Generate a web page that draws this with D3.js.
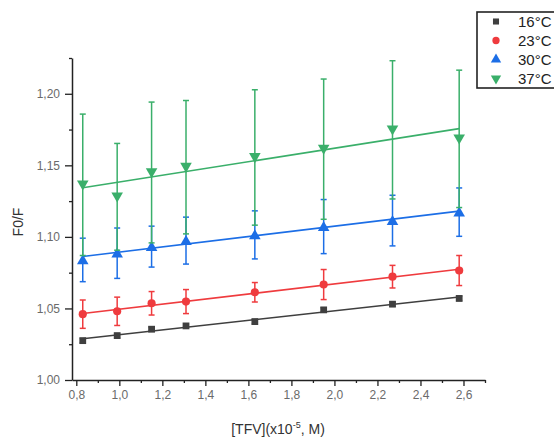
<!DOCTYPE html>
<html>
<head>
<meta charset="utf-8">
<script src="https://cdn.jsdelivr.net/npm/d3@7"></script>
<style>
  html, body { margin: 0; padding: 0; background: #fff; overflow: hidden; }
  svg { display: block; font-family: 'Liberation Sans', Arial, sans-serif; }
</style>
</head>
<body>
<div id="chart-container"></div>
<script>
// concentration of TFV (x10^-5 M)
const concentrations = [0.83, 0.99, 1.15, 1.31, 1.63, 1.95, 2.27, 2.58]

// F0/F per temperature, with error bars
const f16 = [1.0275, 1.031, 1.0355, 1.0378, 1.0408, 1.049, 1.053, 1.057]
const f16Err = [0.0015, 0.0015, 0.0015, 0.0015, 0.0015, 0.0015, 0.0015, 0.0015]
const f23 = [1.046, 1.048, 1.0536, 1.0548, 1.0613, 1.0667, 1.0722, 1.0765]
const f23Err = [0.0099, 0.0099, 0.0082, 0.0084, 0.0068, 0.0105, 0.0079, 0.0105]
const f30 = [1.0839, 1.0886, 1.0932, 1.0974, 1.1014, 1.1072, 1.1114, 1.1173]
const f30Err = [0.0152, 0.0176, 0.0143, 0.0164, 0.0168, 0.0189, 0.0177, 0.0169]
const f37 = [1.1364, 1.128, 1.145, 1.1487, 1.1555, 1.1613, 1.1748, 1.1685]
const f37Err = [0.0494, 0.0373, 0.0492, 0.0466, 0.0473, 0.049, 0.0483, 0.048]

const seriesNames = ['16°C', '23°C', '30°C', '37°C']

const xTicks = [0.8, 1.0, 1.2, 1.4, 1.6, 1.8, 2.0, 2.2, 2.4, 2.6]
const xMinorTicks = [0.9, 1.1, 1.3, 1.5, 1.7, 1.9, 2.1, 2.3, 2.5, 2.7]
const yTicks = [1.0, 1.05, 1.1, 1.15, 1.2]
const yMinorTicks = [1.025, 1.075, 1.125, 1.175, 1.225]

// --------------------------------------------

const width = 554
const height = 442
const plot = { left: 72, right: 485, top: 58, bottom: 380 }

const series = [
  { name: seriesNames[0], values: f16, errors: f16Err, color: '#3f3f3f', symbol: d3.symbolSquare, size: 46, rotate: 0 },
  { name: seriesNames[1], values: f23, errors: f23Err, color: '#ef3b3e', symbol: d3.symbolCircle, size: 52, rotate: 0 },
  { name: seriesNames[2], values: f30, errors: f30Err, color: '#1c6ee6', symbol: d3.symbolTriangle, size: 58, rotate: 0 },
  { name: seriesNames[3], values: f37, errors: f37Err, color: '#3aaf6a', symbol: d3.symbolTriangle, size: 58, rotate: 180 }
]

const x = d3.scaleLinear().domain([0.78, 2.7]).range([plot.left, plot.right])
const y = d3.scaleLinear().domain([1.0, 1.225]).range([plot.bottom, plot.top])

const comma = fmt => v => d3.format(fmt)(v).replace('.', ',')

const svg = d3.select('#chart-container')
  .append('svg')
  .attr('width', width)
  .attr('height', height)

// axes
const xAxis = svg.append('g').attr('transform', `translate(0,${plot.bottom})`)
xAxis.call(d3.axisBottom(x).tickValues(xMinorTicks).tickSize(3).tickFormat(''))
xAxis.call(g => g.select('.domain').remove())
svg.append('g').attr('transform', `translate(0,${plot.bottom})`)
  .call(d3.axisBottom(x).tickValues(xTicks).tickSize(6).tickSizeOuter(0).tickPadding(4).tickFormat(comma('.1f')))

const yAxis = svg.append('g').attr('transform', `translate(${plot.left},0)`)
yAxis.call(d3.axisLeft(y).tickValues(yMinorTicks).tickSize(3).tickFormat(''))
yAxis.call(g => g.select('.domain').remove())
svg.append('g').attr('transform', `translate(${plot.left},0)`)
  .call(d3.axisLeft(y).tickValues(yTicks).tickSize(7).tickSizeOuter(0).tickPadding(5).tickFormat(comma('.2f')))

svg.selectAll('.domain').attr('stroke', '#222').attr('stroke-width', 1.5)
svg.selectAll('.tick line').attr('stroke', '#222').attr('stroke-width', 1.3)
svg.selectAll('.tick text')
  .attr('fill', '#6a6a6a')
  .style('font-size', '12px')
  .style('font-family', "'Liberation Sans', Arial, sans-serif")

// axis titles
svg.append('text')
  .attr('transform', 'translate(23,222) rotate(-90)')
  .attr('text-anchor', 'middle')
  .attr('fill', '#333')
  .style('font-size', '14px')
  .text('F0/F')

const xTitle = svg.append('text')
  .attr('x', 278)
  .attr('y', 434)
  .attr('text-anchor', 'middle')
  .attr('fill', '#333')
  .style('font-size', '14px')
xTitle.append('tspan').text('[TFV](x10')
xTitle.append('tspan').attr('dy', -6).style('font-size', '9px').text('-5')
xTitle.append('tspan').attr('dy', 6).text(', M)')

// linear fit of each series
const fit = values => {
  const mx = d3.mean(concentrations)
  const my = d3.mean(values)
  let sxy = 0
  let sxx = 0
  concentrations.forEach((c, i) => {
    sxy += (c - mx) * (values[i] - my)
    sxx += (c - mx) ** 2
  })
  const slope = sxy / sxx
  const intercept = my - slope * mx
  return d3.extent(concentrations).map(c => [c, intercept + slope * c])
}

const line = d3.line().x(d => x(d[0])).y(d => y(d[1]))

series.forEach(s => {
  const g = svg.append('g')
  const points = concentrations.map((c, i) => ({ c, v: s.values[i], e: s.errors[i] }))

  g.append('path')
    .datum(fit(s.values))
    .attr('d', line)
    .attr('fill', 'none')
    .attr('stroke', s.color)
    .attr('stroke-width', 1.6)

  const bars = g.selectAll('.err')
    .data(points)
    .enter()
    .append('g')
    .attr('stroke', s.color)
    .attr('stroke-width', 1.5)

  bars.append('line')
    .attr('x1', d => x(d.c)).attr('x2', d => x(d.c))
    .attr('y1', d => y(d.v - d.e)).attr('y2', d => y(d.v + d.e))
  bars.append('line')
    .attr('x1', d => x(d.c) - 3).attr('x2', d => x(d.c) + 3)
    .attr('y1', d => y(d.v + d.e)).attr('y2', d => y(d.v + d.e))
  bars.append('line')
    .attr('x1', d => x(d.c) - 3).attr('x2', d => x(d.c) + 3)
    .attr('y1', d => y(d.v - d.e)).attr('y2', d => y(d.v - d.e))

  g.selectAll('.marker')
    .data(points)
    .enter()
    .append('path')
    .attr('d', d3.symbol().type(s.symbol).size(s.size))
    .attr('transform', d => `translate(${x(d.c)},${y(d.v) + (s.rotate ? -1 : s.symbol === d3.symbolTriangle ? 1 : 0)}) rotate(${s.rotate})`)
    .attr('fill', s.color)
})

// legend, cut off by the right edge as in the source figure
const legend = svg.append('g').attr('transform', 'translate(477,12)')
legend.append('rect')
  .attr('width', 130)
  .attr('height', 76)
  .attr('fill', '#fff')
  .attr('stroke', '#222')
  .attr('stroke-width', 1.6)

const item = legend.selectAll('.item')
  .data(series)
  .enter()
  .append('g')
  .attr('transform', (_, i) => `translate(19,${9.5 + i * 19})`)

item.append('path')
  .attr('d', d => d3.symbol().type(d.symbol).size(d.size * 0.8)())
  .attr('transform', d => `rotate(${d.rotate})`)
  .attr('fill', d => d.color)

item.append('text')
  .attr('x', 22)
  .attr('y', 5.5)
  .attr('fill', '#222')
  .style('font-size', '15px')
  .text(d => d.name)
</script>
</body>
</html>
